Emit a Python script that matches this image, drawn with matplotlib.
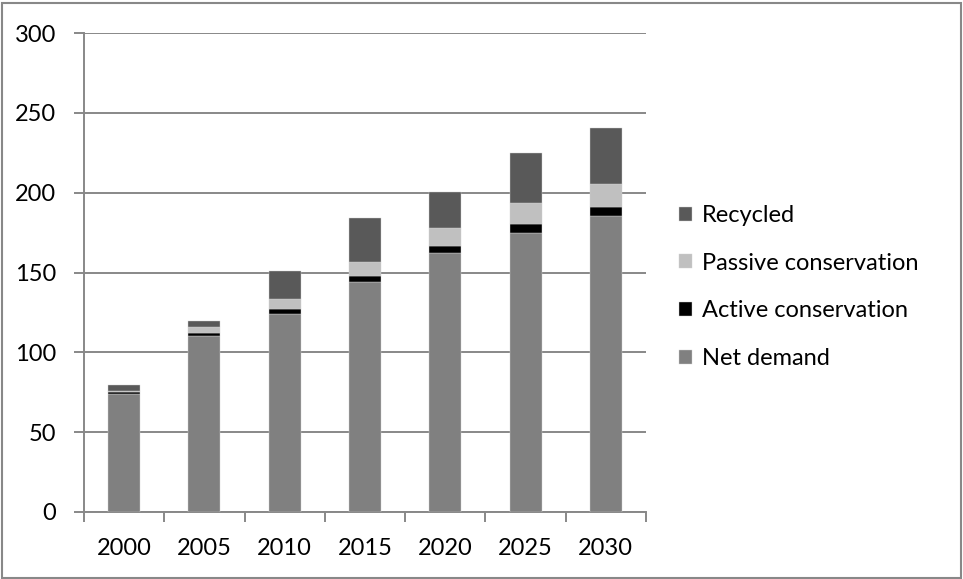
import matplotlib
matplotlib.use("Agg")
import matplotlib.pyplot as plt
import numpy as np
from matplotlib.patches import Rectangle

years = ["2000", "2005", "2010", "2015", "2020", "2025", "2030"]
net_demand = [73.8, 110.2, 124.0, 144.2, 162.0, 175.0, 185.3]
active_conservation = [1.1, 2.1, 2.9, 3.8, 4.6, 5.4, 5.9]
passive_conservation = [0.6, 3.3, 6.3, 8.8, 11.0, 13.0, 14.0]
recycled = [4.3, 4.2, 17.7, 27.1, 23.0, 31.7, 35.0]
series_names = ["Net demand", "Active conservation", "Passive conservation", "Recycled"]
colors = ["#808080", "#000000", "#C0C0C0", "#595959"]
yticks = [0, 50, 100, 150, 200, 250, 300]

plt.rcParams['font.family'] = ['Lato', 'DejaVu Sans']
fig = plt.figure(figsize=(9.63, 5.79), dpi=100)
fig.patches.append(Rectangle((0.002, 0.002), 0.996, 0.993, transform=fig.transFigure,
                             fill=False, edgecolor="#888888", linewidth=1.5))
ax = fig.add_axes([84/963, 67/579, (646-84)/963, (512-33)/579])

x = np.arange(len(years))
bottom = np.zeros(len(years))
handles = []
for name, vals, c in zip(series_names, [net_demand, active_conservation, passive_conservation, recycled], colors):
    b = ax.bar(x, vals, width=0.4, bottom=bottom, color=c, label=name, zorder=3,
               edgecolor="#d0d0d0", linewidth=0.3)
    handles.append(b)
    bottom += np.array(vals)

ax.set_xlim(-0.5, len(years) - 0.5)
ax.set_ylim(0, 300)
ax.set_yticks(yticks)
ax.set_yticklabels([str(t) for t in yticks])
ax.yaxis.grid(True, color="#888888", linewidth=1.4, zorder=0)
ax.set_axisbelow(True)
for s in ["top", "right"]:
    ax.spines[s].set_visible(False)
for s in ["left", "bottom"]:
    ax.spines[s].set_color("#888888")
    ax.spines[s].set_linewidth(1.4)

ax.set_xticks(x)
ax.set_xticklabels(years)
ax.tick_params(axis="x", which="major", length=0, pad=19, labelsize=17)
ax.set_xticks(np.arange(-0.5, len(years)), minor=True)
ax.tick_params(axis="x", which="minor", length=7, width=1.4, color="#888888", direction="out")
ax.tick_params(axis="y", length=7, width=1.4, color="#888888", pad=13, labelsize=17)

leg = ax.legend(handles[::-1], series_names[::-1], loc="center left",
                bbox_to_anchor=(658/963, 1 - 287/579), bbox_transform=fig.transFigure,
                frameon=False, fontsize=17, handlelength=0.55, handleheight=0.55,
                handletextpad=0.4, labelspacing=1.13)

fig.savefig("out.png", dpi=100)
